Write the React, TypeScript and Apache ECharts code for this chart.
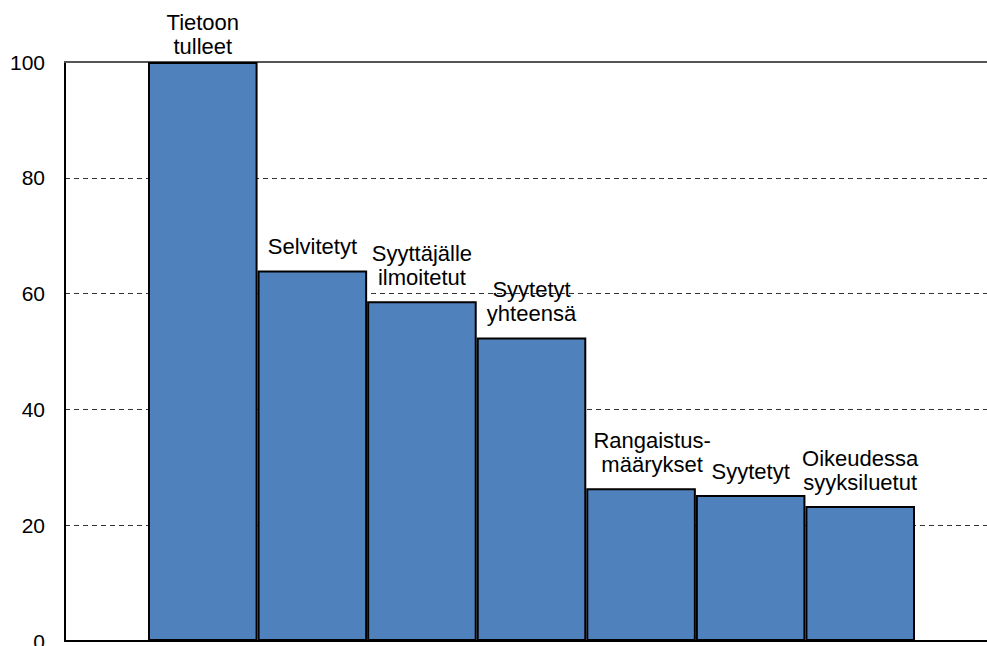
import React, { useEffect, useRef } from "react";
import * as echarts from "echarts";

const categories = [
  "Tietoon\ntulleet",
  "Selvitetyt",
  "Syyttäjälle\nilmoitetut",
  "Syytetyt\nyhteensä",
  "Rangaistus-\nmäärykset",
  "Syytetyt",
  "Oikeudessa\nsyyksiluetut",
];
const values = [100, 64, 58.7, 52.4, 26.4, 25.2, 23.3];
const yTicks = [0, 20, 40, 60, 80, 100];

export default function App() {
  const ref = useRef<HTMLDivElement>(null);
  useEffect(() => {
    document.body.style.margin = "0";
    const chart = echarts.init(ref.current!, null, { renderer: "svg" });
    const font = "'Liberation Sans', Arial, sans-serif";
    chart.setOption({
      animation: false,
      backgroundColor: "#ffffff",
      grid: [
        { left: 65, right: 0, top: 62, bottom: 5, outerBoundsMode: "none", containLabel: false },
        { left: 148, right: 72, top: 62, bottom: 5, outerBoundsMode: "none", containLabel: false },
      ],
      xAxis: [
        {
          type: "category",
          gridIndex: 0,
          data: [""],
          position: "bottom",
          axisLine: { lineStyle: { color: "#000", width: 2 } },
          axisTick: { show: false },
          axisLabel: { show: false },
        },
        {
          type: "category",
          gridIndex: 0,
          data: [""],
          position: "top",
          axisLine: { lineStyle: { color: "#555", width: 2 } },
          axisTick: { show: false },
          axisLabel: { show: false },
        },
        {
          type: "category",
          gridIndex: 1,
          data: categories,
          axisLine: { show: false },
          axisTick: { show: false },
          axisLabel: { show: false },
        },
      ],
      yAxis: [
        {
          type: "value",
          gridIndex: 0,
          min: yTicks[0],
          max: yTicks[yTicks.length - 1],
          interval: 20,
          axisLine: { show: true, lineStyle: { color: "#000", width: 2 } },
          axisTick: { show: false },
          axisLabel: {
            color: "#000",
            fontSize: 21,
            fontFamily: font,
            margin: 20,
          },
          splitLine: {
            show: true,
            lineStyle: { color: "#333", type: [5, 4], width: 1 },
          },
        },
        {
          type: "value",
          gridIndex: 1,
          min: 0,
          max: 100,
          show: false,
          splitLine: { show: false },
        },
      ],
      series: [
        {
          type: "bar",
          xAxisIndex: 2,
          yAxisIndex: 1,
          barCategoryGap: 0,
          data: values.map((v, i) => ({
            value: v,
            label:
              i === 0
                ? { distance: 4 }
                : i === 4
                ? { offset: [11, 0] }
                : {},
          })),
          itemStyle: { color: "#4F81BD", borderColor: "#000", borderWidth: 2 },
          label: {
            show: true,
            position: "top",
            distance: 12,
            color: "#000",
            fontSize: 22,
            lineHeight: 24,
            fontFamily: font,
            formatter: (p: any) => categories[p.dataIndex],
          },
        },
      ],
    });
    return () => chart.dispose();
  }, []);
  return (
    <div
      ref={ref}
      style={{ position: "fixed", left: 0, top: 0, width: 987, height: 646 }}
    />
  );
}
